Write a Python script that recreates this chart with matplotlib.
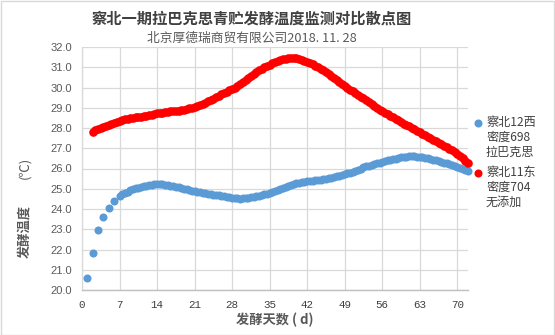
import matplotlib
matplotlib.use('Agg')
import matplotlib.pyplot as plt
import numpy as np
from matplotlib.patches import Rectangle

plt.rcParams['font.family'] = ['Noto Sans CJK SC', 'DejaVu Sans']

# blue series: days 1..6 daily, then twice a day up to day 72
blue_days = [1, 2, 3, 4, 5, 6] + list(np.arange(7, 72.01, 0.5))
blue_temp = [
    20.6, 21.85, 22.95, 23.6, 24.05, 24.4,
    24.65, 24.72, 24.8, 24.86, 24.92, 24.97, 25.02, 25.06, 25.1, 25.13,
    25.16, 25.18, 25.2, 25.21, 25.22, 25.22, 25.21, 25.2, 25.18, 25.16,
    25.13, 25.1, 25.07, 25.04, 25.0, 24.97, 24.94, 24.91, 24.88, 24.85,
    24.82, 24.79, 24.77, 24.75, 24.73, 24.71, 24.69, 24.67, 24.65, 24.63,
    24.6, 24.57, 24.55, 24.53, 24.52, 24.51, 24.52, 24.53, 24.55, 24.57,
    24.6, 24.63, 24.66, 24.69, 24.72, 24.76, 24.8, 24.85, 24.9, 24.95,
    25.0, 25.05, 25.1, 25.14, 25.18, 25.22, 25.26, 25.29, 25.32, 25.35,
    25.37, 25.39, 25.4, 25.42, 25.43, 25.45, 25.47, 25.5, 25.52, 25.55,
    25.58, 25.62, 25.65, 25.69, 25.72, 25.76, 25.8, 25.85, 25.9, 25.95,
    26.0, 26.05, 26.1, 26.14, 26.18, 26.22, 26.25, 26.29, 26.32, 26.36,
    26.4, 26.43, 26.46, 26.49, 26.52, 26.55, 26.57, 26.59, 26.6, 26.6,
    26.6, 26.59, 26.57, 26.55, 26.52, 26.5, 26.47, 26.44, 26.4, 26.36,
    26.32, 26.29, 26.25, 26.2, 26.15, 26.11, 26.07, 26.02, 25.98, 25.94,
    25.9,
]

# red series: twice a day from day 2 to day 72
red_days = list(np.arange(2, 72.01, 0.5))
red_temp = [
    27.8, 27.88, 27.95, 28.0, 28.05, 28.1, 28.15, 28.2, 28.25, 28.29,
    28.33, 28.38, 28.42, 28.45, 28.48, 28.5, 28.52, 28.54, 28.56, 28.58,
    28.6, 28.63, 28.66, 28.69, 28.72, 28.74, 28.76, 28.78, 28.8, 28.82,
    28.83, 28.85, 28.86, 28.88, 28.9, 28.93, 28.97, 29.01, 29.05, 29.1,
    29.14, 29.2, 29.25, 29.31, 29.38, 29.45, 29.52, 29.59, 29.66, 29.73,
    29.8, 29.87, 29.93, 30.0, 30.07, 30.16, 30.25, 30.35, 30.45, 30.55,
    30.65, 30.75, 30.85, 30.93, 31.0, 31.06, 31.12, 31.19, 31.25, 31.3,
    31.35, 31.39, 31.42, 31.44, 31.45, 31.45, 31.44, 31.41, 31.38, 31.33,
    31.28, 31.22, 31.15, 31.08, 31.0, 30.93, 30.85, 30.75, 30.65, 30.55,
    30.45, 30.35, 30.25, 30.15, 30.05, 29.98, 29.9, 29.81, 29.72, 29.64,
    29.55, 29.47, 29.38, 29.29, 29.2, 29.1, 29.0, 28.91, 28.82, 28.75,
    28.68, 28.6, 28.52, 28.45, 28.38, 28.3, 28.22, 28.15, 28.08, 28.01,
    27.94, 27.87, 27.8, 27.72, 27.65, 27.58, 27.5, 27.43, 27.35, 27.28,
    27.2, 27.13, 27.05, 26.98, 26.9, 26.8, 26.7, 26.6, 26.5, 26.38,
    26.25,
]

legend_labels = ['察北12西\n密度698\n拉巴克思', '察北11东\n密度704\n无添加']
x_ticks = list(range(0, 71, 7))
y_ticks = [20.0 + i for i in range(13)]

BLUE = '#5B9BD5'
RED = '#FF0000'
GRID = '#d9d9d9'
TXT = '#595959'

W, H = 555, 335
fig = plt.figure(figsize=(W / 100, H / 100), dpi=100)
fig.patch.set_facecolor('white')
fig.patches.append(Rectangle((0.5 / W, 0.5 / H), 1 - 1.5 / W, 1 - 1.5 / H,
                             transform=fig.transFigure, fill=False,
                             edgecolor='#d9d9d9', linewidth=1))

ax = fig.add_axes([82 / W, 1 - 290 / H, (468 - 82) / W, (290 - 47) / H])
ax.plot(blue_days, blue_temp, 'o', color=BLUE, markersize=5.8,
        markeredgewidth=0, zorder=3, clip_on=False)
ax.plot(red_days, red_temp, 'o', color=RED, markersize=6.2,
        markeredgewidth=0, zorder=4, clip_on=False)

ax.set_xlim(0, 72)
ax.set_ylim(20, 32)
ax.set_xticks(x_ticks)
ax.set_yticks(y_ticks)
ax.set_yticklabels(['{:.1f}'.format(v) for v in y_ticks],
                   family='Liberation Sans', fontsize=8, color=TXT)
ax.set_xticklabels([str(v) for v in x_ticks],
                   family='Liberation Mono', fontsize=7.8, color='#404040')
ax.tick_params(axis='both', length=0)
ax.tick_params(axis='y', pad=7)
ax.tick_params(axis='x', pad=7)
ax.grid(True, color=GRID, linewidth=0.9, zorder=0)
ax.set_axisbelow(True)
for side in ('top', 'right'):
    ax.spines[side].set_visible(False)
ax.spines['left'].set_color(GRID)
ax.spines['left'].set_linewidth(0.9)
ax.spines['bottom'].set_color('#bfbfbf')
ax.spines['bottom'].set_linewidth(1)

# titles
fig.text(252 / W, 1 - 19 / H, '察北一期拉巴克思青贮发酵温度监测对比散点图',
         ha='center', va='center', fontsize=11, fontweight='bold', color='#404040')
fig.text(252 / W, 1 - 38 / H, '北京厚德瑞商贸有限公司2018. 11. 28',
         ha='center', va='center', fontsize=9.2, color=TXT)

# axis labels
fig.text(25 / W, 1 - 231 / H, '发酵温度', rotation=90, ha='center', va='center',
         fontsize=9.5, fontweight='bold', color=TXT)
fig.text(25 / W, 1 - 168 / H, '(℃)', rotation=90, ha='center', va='center',
         fontsize=9.5, color=TXT)
fig.text(275 / W, 1 - 320 / H, '发酵天数 ( d)', ha='center', va='center',
         fontsize=9.5, fontweight='bold', color=TXT)

# legend
for i, (lab, col) in enumerate(zip(legend_labels, [BLUE, RED])):
    y0 = 123 + i * 50
    fig.lines.append(plt.Line2D([478 / W], [1 - y0 / H], marker='o',
                                color=col, markersize=5.8, markeredgewidth=0,
                                transform=fig.transFigure))
    fig.text(486 / W, 1 - (y0 - 7) / H, lab, ha='left', va='top',
             fontsize=8.7, color='#404040', linespacing=1.2)

fig.savefig('out.png', dpi=100)
